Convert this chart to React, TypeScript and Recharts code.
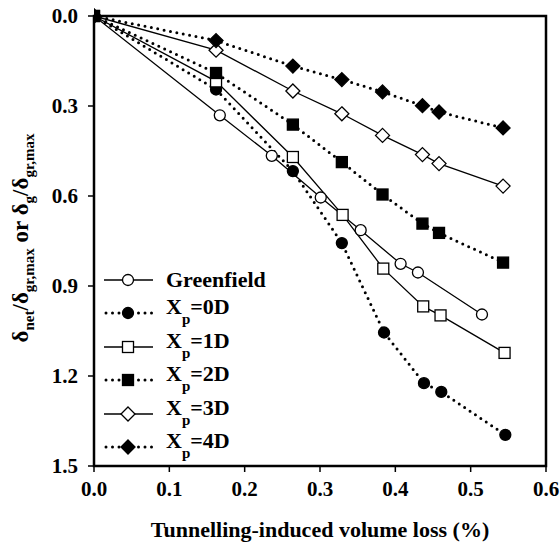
import { ComposedChart, Line, XAxis, YAxis, ReferenceArea, Legend } from 'recharts';

const greenX = [0, 0.167, 0.236, 0.301, 0.354, 0.407, 0.43, 0.515];
const greenY = [0, 0.331, 0.466, 0.605, 0.714, 0.826, 0.855, 0.995];
const xp0X = [0, 0.162, 0.264, 0.329, 0.385, 0.438, 0.461, 0.546];
const xp0Y = [0, 0.245, 0.517, 0.757, 1.055, 1.224, 1.253, 1.396];
const xp1X = [0, 0.162, 0.264, 0.33, 0.384, 0.437, 0.46, 0.545];
const xp1Y = [0, 0.218, 0.47, 0.663, 0.842, 0.968, 0.998, 1.123];
const xp2X = [0, 0.162, 0.264, 0.329, 0.383, 0.436, 0.458, 0.543];
const xp2Y = [0, 0.19, 0.362, 0.487, 0.595, 0.692, 0.723, 0.822];
const xp3X = [0, 0.162, 0.264, 0.329, 0.383, 0.436, 0.458, 0.543];
const xp3Y = [0, 0.114, 0.25, 0.326, 0.398, 0.462, 0.492, 0.567];
const xp4X = [0, 0.162, 0.264, 0.329, 0.383, 0.436, 0.458, 0.543];
const xp4Y = [0, 0.082, 0.167, 0.212, 0.253, 0.299, 0.32, 0.373];

const xTicks = [0, 0.1, 0.2, 0.3, 0.4, 0.5, 0.6];
const yTicks = [0, 0.3, 0.6, 0.9, 1.2, 1.5];

const FONT = '"Liberation Serif", "Times New Roman", serif';

type Kind = 'circle' | 'square' | 'diamond';

const zip = (xs: number[], ys: number[]) => xs.map((x, i) => ({ x, y: ys[i] }));

const series = [
  { name: 'Greenfield', sub: '', rest: '', data: zip(greenX, greenY), kind: 'circle' as Kind, filled: false, dotted: false },
  { name: 'X', sub: 'p', rest: '=0D', data: zip(xp0X, xp0Y), kind: 'circle' as Kind, filled: true, dotted: true },
  { name: 'X', sub: 'p', rest: '=1D', data: zip(xp1X, xp1Y), kind: 'square' as Kind, filled: false, dotted: false },
  { name: 'X', sub: 'p', rest: '=2D', data: zip(xp2X, xp2Y), kind: 'square' as Kind, filled: true, dotted: true },
  { name: 'X', sub: 'p', rest: '=3D', data: zip(xp3X, xp3Y), kind: 'diamond' as Kind, filled: false, dotted: false },
  { name: 'X', sub: 'p', rest: '=4D', data: zip(xp4X, xp4Y), kind: 'diamond' as Kind, filled: true, dotted: true },
];

function Marker({ cx, cy, kind, filled }: { cx: number; cy: number; kind: Kind; filled: boolean }) {
  const fill = filled ? '#000' : '#fff';
  if (kind === 'circle') return <circle cx={cx} cy={cy} r={5.5} fill={fill} stroke="#000" strokeWidth={1.3} />;
  if (kind === 'square') return <rect x={cx - 5.5} y={cy - 5.5} width={11} height={11} fill={fill} stroke="#000" strokeWidth={1.3} />;
  return (
    <polygon
      points={`${cx},${cy - 7} ${cx + 7},${cy} ${cx},${cy + 7} ${cx - 7},${cy}`}
      fill={fill}
      stroke="#000"
      strokeWidth={1.3}
    />
  );
}

const makeDot = (kind: Kind, filled: boolean) => (p: any) =>
  <Marker key={`${kind}-${filled}-${p.index}`} cx={p.cx} cy={p.cy} kind={kind} filled={filled} />;

function YLabel() {
  return (
    <text
      transform="translate(28,238) rotate(-90)"
      textAnchor="middle"
      fontFamily={FONT}
      fontWeight="bold"
      fontSize={23}
      fill="#000"
    >
      δ<tspan fontSize={15} dy={6}>net</tspan>
      <tspan dy={-6}>/δ</tspan>
      <tspan fontSize={15} dy={6}>gr,max</tspan>
      <tspan dy={-6}> or δ</tspan>
      <tspan fontSize={15} dy={6}>g</tspan>
      <tspan dy={-6}>/δ</tspan>
      <tspan fontSize={15} dy={6}>gr,max</tspan>
    </text>
  );
}

function LegendBox() {
  return (
    <div style={{ fontFamily: FONT, fontWeight: 'bold', fontSize: 22, color: '#000' }}>
      {series.map((s, i) => (
        <div key={i} style={{ display: 'flex', alignItems: 'center', height: 33.5 }}>
          <svg width={58} height={20} style={{ marginRight: 4 }}>
            {s.dotted ? (
              <line x1={2} y1={10} x2={50} y2={10} stroke="#000" strokeWidth={3} strokeDasharray="0 6.5" strokeLinecap="round" />
            ) : (
              <line x1={0} y1={10} x2={49} y2={10} stroke="#000" strokeWidth={1.3} />
            )}
            <Marker cx={24} cy={10} kind={s.kind} filled={s.filled} />
          </svg>
          <span style={{ lineHeight: '22px' }}>
            {s.name}
            {s.sub && <sub style={{ fontSize: 15, verticalAlign: -10 }}>{s.sub}</sub>}
            {s.rest}
          </span>
        </div>
      ))}
    </div>
  );
}

export default function App() {
  const tickStyle = { fontFamily: FONT, fontWeight: 'bold', fontSize: 21, fill: '#000' };
  return (
    <div style={{ position: 'absolute', left: 0, top: 0, background: '#fff' }}>
      <ComposedChart width={560} height={546} margin={{ top: 16, right: 14, bottom: 0, left: 0 }}>
        <XAxis
          type="number"
          dataKey="x"
          domain={[0, 0.6]}
          ticks={xTicks}
          tickFormatter={(v: number) => v.toFixed(1)}
          axisLine={false}
          tickLine={{ stroke: '#000', strokeWidth: 1.5 }}
          tickSize={6}
          tickMargin={9}
          tick={tickStyle}
          height={80}
          allowDataOverflow
          label={{
            value: 'Tunnelling-induced volume loss (%)',
            position: 'insideBottom',
            offset: 9,
            style: { fontFamily: FONT, fontWeight: 'bold', fontSize: 22, fill: '#000' },
          }}
        />
        <YAxis
          type="number"
          dataKey="y"
          domain={[0, 1.5]}
          ticks={yTicks}
          reversed
          tickFormatter={(v: number) => v.toFixed(1)}
          axisLine={false}
          tickLine={{ stroke: '#000', strokeWidth: 1.5 }}
          tickSize={6}
          tickMargin={10}
          tick={tickStyle}
          width={94}
          label={{ content: () => <YLabel /> }}
        />
        {series.map((s, i) => (
          <Line
            key={i}
            data={s.data}
            dataKey="y"
            type="linear"
            stroke="#000"
            strokeWidth={s.dotted ? 3 : 1.3}
            strokeDasharray={s.dotted ? '0 6.5' : undefined}
            strokeLinecap="round"
            dot={makeDot(s.kind, s.filled)}
            activeDot={false}
            isAnimationActive={false}
          />
        ))}
        <ReferenceArea x1={0} x2={0.6} y1={0} y2={1.5} fill="none" stroke="#000" strokeWidth={2.5} ifOverflow="visible" />
        <Legend
          layout="horizontal"
          verticalAlign="middle"
          align="center"
          content={() => <LegendBox />}
          wrapperStyle={{ left: 104, top: 263, width: 220 }}
        />
      </ComposedChart>
    </div>
  );
}
